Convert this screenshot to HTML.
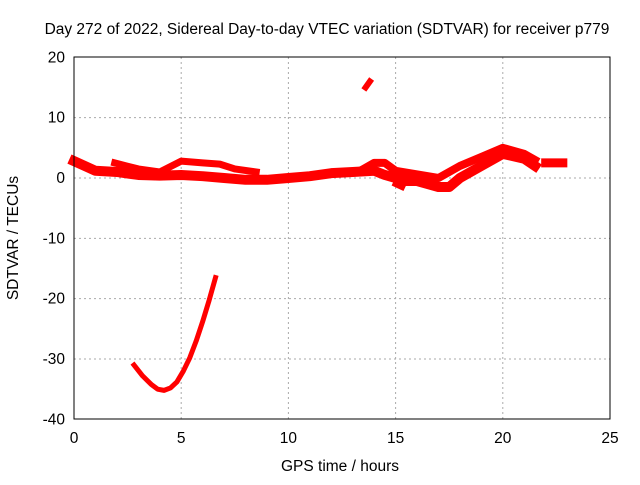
<!DOCTYPE html>
<html><head><meta charset="utf-8"><style>
body{margin:0;background:#fff}
svg text{font-family:"Liberation Sans",sans-serif;font-size:15.5px;fill:#000}
</style></head><body>
<svg id="c" width="640" height="480">
<text x="327" y="34" text-anchor="middle">Day 272 of 2022, Sidereal Day-to-day VTEC variation (SDTVAR) for receiver p779</text>
<text x="340" y="471" text-anchor="middle">GPS time / hours</text>
<text transform="translate(18,238) rotate(-90)" text-anchor="middle">SDTVAR / TECUs</text>
<g id="grid"></g><g id="marks"></g>
<rect x="74" y="57" width="536" height="362" fill="none" stroke="#000"/>
<g id="ticks"></g>
</svg>
<script>
const xTicks=[0,5,10,15,20,25];
const yTicks=[20,10,0,-10,-20,-30,-40];
const trackMainX=[0,0.5,1,2,3,4,5,6,7,8,9,10,11,12,13,14,14.5,15,15.5,16,17,17.5,18,19,20,21,21.5];
const trackMainY=[2.8,2,1.2,1,0.5,0.4,0.5,0.3,0,-0.3,-0.3,0,0.3,0.8,1,1.2,0.5,0,-0.5,-0.5,-1.5,-1.5,0,2,4,3.2,2];
const trackUpperX=[1.9,3,4,5,6,6.8,7.5,8.5];
const trackUpperY=[2.5,1.5,1,2.8,2.5,2.3,1.5,1];
const trackLateX=[13.5,14,14.5,15,17,18,19,20,21,21.5];
const trackLateY=[1.5,2.5,2.5,1.2,0,2,3.5,5,4,3];
const trackEndX=[22,22.8];
const trackEndY=[2.5,2.5];
const trackSpikeX=[13.6,13.8];
const trackSpikeY=[15,16];
const trackDipX=[2.8,3.2,3.6,3.9,4.2,4.5,4.8,5.1,5.4,5.7,6,6.3,6.6];
const trackDipY=[-31,-32.8,-34.2,-35,-35.2,-34.8,-33.8,-32,-29.8,-27,-23.8,-20.3,-16.5];
const trackShortX=[15,15.3];
const trackShortY=[-1,-1.5];
const X=v=>74+v*(536/25), Y=v=>178-v*(362/60);
const ns="http://www.w3.org/2000/svg";
const g=document.getElementById('grid'),t=document.getElementById('ticks'),m=document.getElementById('marks');
xTicks.forEach(v=>{
 if(v>0&&v<25){const l=document.createElementNS(ns,'line');
 
 
 l.setAttribute('x1',X(v));l.setAttribute('x2',X(v));l.setAttribute('y1',57);l.setAttribute('y2',419);
 l.setAttribute('stroke','#aaa');l.setAttribute('stroke-dasharray','2,3');g.appendChild(l);}
 const s=document.createElementNS(ns,'text');
 
 
 s.setAttribute('x',X(v));s.setAttribute('y',443);s.setAttribute('text-anchor','middle');s.textContent=v;t.appendChild(s);
});
yTicks.forEach(v=>{
 if(v>-40&&v<20){const l=document.createElementNS(ns,'line');
 
 
 l.setAttribute('x1',74);l.setAttribute('x2',610);l.setAttribute('y1',Y(v));l.setAttribute('y2',Y(v));
 l.setAttribute('stroke','#aaa');l.setAttribute('stroke-dasharray','2,3');g.appendChild(l);}
 const s=document.createElementNS(ns,'text');
 
 
 s.setAttribute('x',65);s.setAttribute('y',Y(v)+5);s.setAttribute('text-anchor','end');s.textContent=v;t.appendChild(s);
});
function track(xs,ys,w,name){
 const p=document.createElementNS(ns,'polyline');
 
 
 p.setAttribute('points',xs.map((x,i)=>X(x)+','+Y(ys[i])).join(' '));
 p.setAttribute('fill','none');p.setAttribute('stroke','#f00');p.setAttribute('stroke-width',w);
 p.setAttribute('stroke-linejoin','round');p.setAttribute('stroke-linecap','square');m.appendChild(p);
}
track(trackMainX,trackMainY,10,'sdtvar-main-track');
track(trackUpperX,trackUpperY,7,'sdtvar-upper-track');
track(trackLateX,trackLateY,8,'sdtvar-late-track');
track(trackEndX,trackEndY,9,'sdtvar-end-track');
track(trackSpikeX,trackSpikeY,6,'sdtvar-spike-track');
track(trackDipX,trackDipY,5,'sdtvar-dip-track');
track(trackShortX,trackShortY,6,'sdtvar-short-track');
</script>
</body></html>
